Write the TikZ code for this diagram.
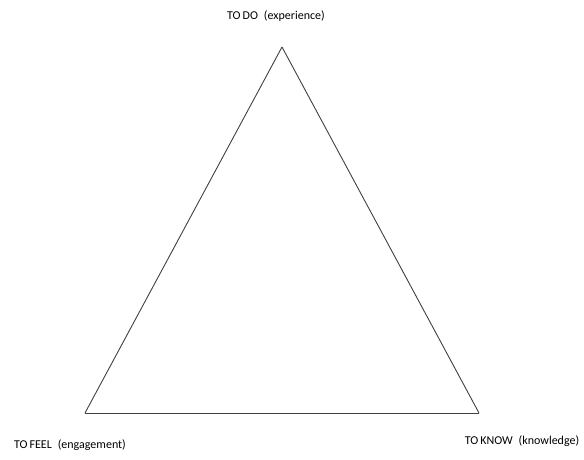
\documentclass[tikz,border=0pt]{standalone}
\usepackage{fontspec}
\setmainfont{Carlito}
\usepackage{tikz}

\begin{document}
\begin{tikzpicture}[
    x=1pt, y=-1pt,
    corner/.style={inner sep=0pt},
    labelnode/.style={rectangle, fill=none, inner sep=1pt, font=\fontsize{12}{14}\selectfont},
    side/.style={draw=black!75, line width=0.9pt}
]
\useasboundingbox (0,0) rectangle (584,459);

% corners of the triangle
\coordinate (top) at (282,47);
\coordinate (left) at (85,413);
\coordinate (right) at (479,413);

% sides
\draw[side] (top)--(left);
\draw[side] (left)--(right);
\draw[side] (right)--(top);

% labels
\node[labelnode] (todo) at (276,16) {TO\,DO\enspace (experience)};
\node[labelnode] (tofeel) at (70,445) {TO\,FEEL\enspace (engagement)};
\node[labelnode] (toknow) at (522,441) {TO\,KNOW\enspace (knowledge)};

\end{tikzpicture}
\end{document}
